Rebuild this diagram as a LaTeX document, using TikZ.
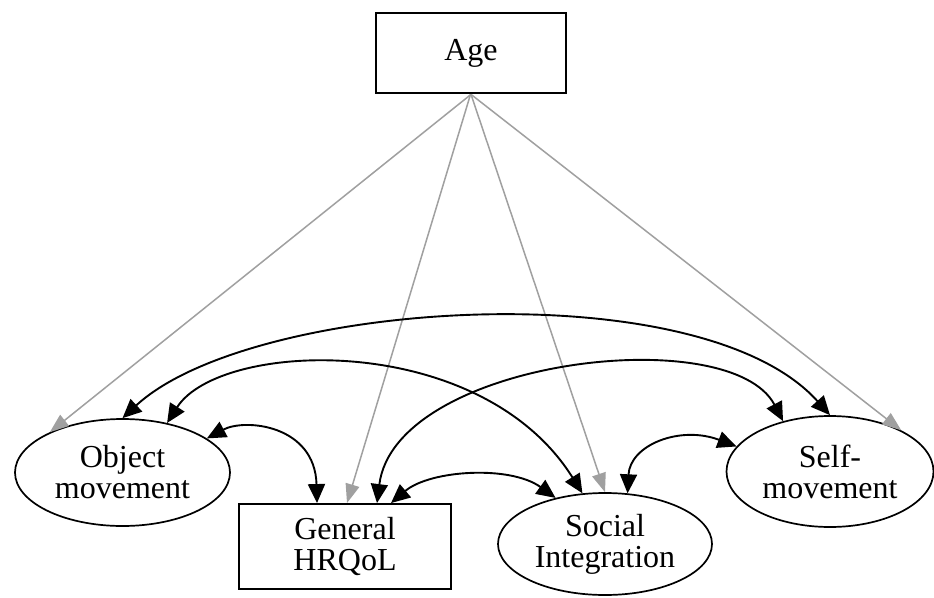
\documentclass[tikz,border=0pt]{standalone}
\usepackage{fontspec}
\setmainfont{Liberation Serif}
\usetikzlibrary{arrows.meta,shapes.geometric}
\definecolor{greyline}{RGB}{160,160,160}
\begin{document}
\begin{tikzpicture}[x=1pt,y=-1pt,
  lbl/.style={font=\fontsize{32}{31}\selectfont, align=center, inner sep=0pt},
  ellbox/.style={lbl, draw, ellipse, line width=1.7pt},
  rectbox/.style={lbl, draw, rectangle, line width=1.9pt},
  cov/.style={draw=black, line width=1.9pt, {Triangle[length=19pt,width=17pt]}-{Triangle[length=19pt,width=17pt]}},
  agepath/.style={draw=greyline, line width=1.5pt, -{Triangle[length=19pt,width=14pt]}, greyline}
]
\useasboundingbox[fill=white] (0,0) rectangle (934,597);

\node[rectbox, line width=2.8pt, minimum width=190pt, minimum height=80pt] (age) at (471,53) {Age};
\node[ellbox, minimum width=215pt, minimum height=107pt] (om) at (122.5,472.5) {Object\\movement};
\node[rectbox, minimum width=212pt, minimum height=85pt] (hr) at (345,546.5) {General\\HRQoL};
\node[ellbox, minimum width=214pt, minimum height=102pt] (si) at (605,544) {Social\\Integration};
\node[ellbox, minimum width=207pt, minimum height=111pt] (sm) at (830,471.5) {Self-\\movement};

% Age effects (grey)
\draw[agepath] (age.south) -- (om.151);
\draw[agepath] ([xshift=-0.5pt]age.south) -- ([xshift=2pt]hr.north);
\draw[agepath] (age.south) -- (si.90);
\draw[agepath] (age.south) -- (sm.30);

% covariances (black, double-headed)
\draw[cov] (om.90) .. controls (250,300) and (700,270) .. (sm.90);
\draw[cov] (om.48) .. controls (220,340) and (480,330) .. (si.114);
\draw[cov] (om.22) .. controls (245,418) and (315,425) .. ([xshift=-28pt]hr.north);
\draw[cov] ([xshift=32pt]hr.north) .. controls (395,360) and (730,320) .. (sm.133);
\draw[cov] ([xshift=46pt]hr.north) .. controls (430,470) and (510,465) .. (si.137);
\draw[cov] (si.66) .. controls (630,445) and (680,425) .. (sm.165);
\end{tikzpicture}
\end{document}
